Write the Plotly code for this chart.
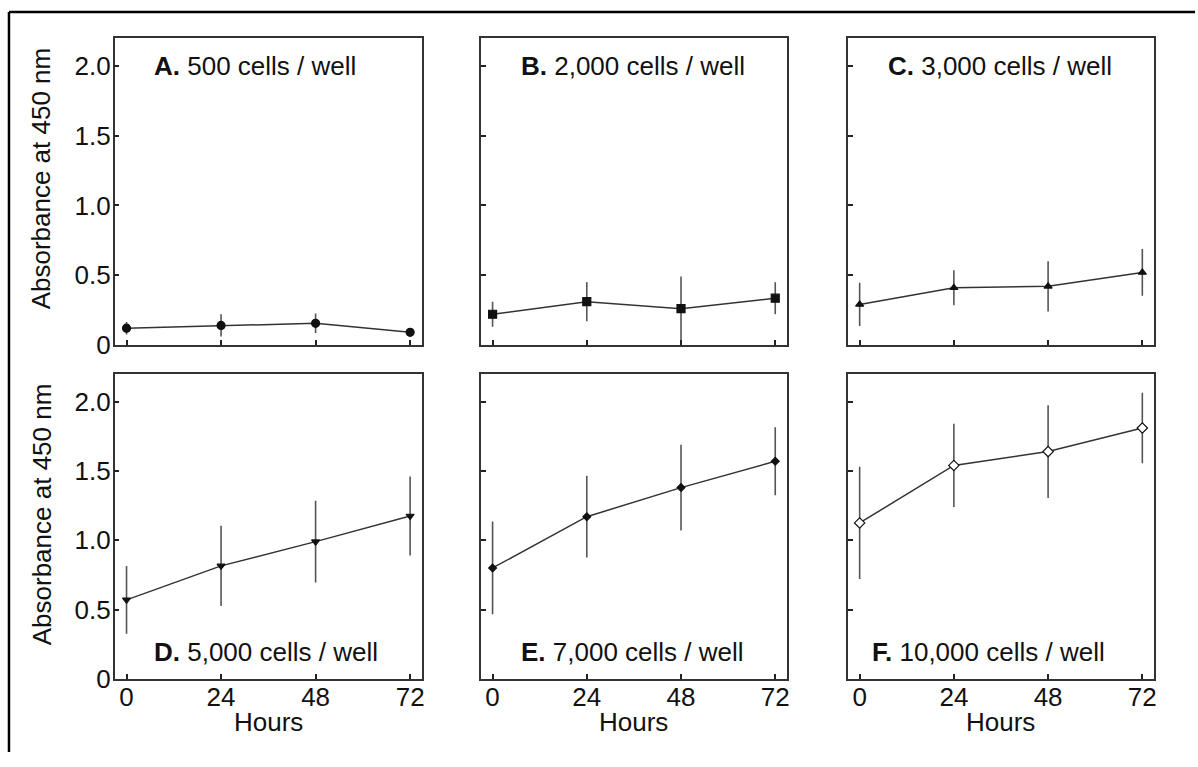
import plotly.graph_objects as go

hours = [0, 24, 48, 72]
x_tick_labels = ["0", "24", "48", "72"]
y_tick_vals = [0, 0.5, 1.0, 1.5, 2.0]
y_tick_labels = ["0", "0.5", "1.0", "1.5", "2.0"]

panel_letters = ["A.", "B.", "C.", "D.", "E.", "F."]
panel_texts = ["500 cells / well", "2,000 cells / well", "3,000 cells / well",
               "5,000 cells / well", "7,000 cells / well", "10,000 cells / well"]

a_mean = [0.12, 0.14, 0.155, 0.09]
a_err = [0.045, 0.08, 0.07, 0.02]
b_mean = [0.22, 0.31, 0.26, 0.335]
b_err = [0.09, 0.14, 0.23, 0.115]
c_mean = [0.29, 0.41, 0.42, 0.52]
c_err = [0.155, 0.125, 0.18, 0.168]
d_mean = [0.57, 0.815, 0.99, 1.175]
d_err = [0.245, 0.29, 0.295, 0.285]
e_mean = [0.80, 1.17, 1.38, 1.57]
e_err = [0.335, 0.295, 0.31, 0.245]
f_mean = [1.125, 1.54, 1.64, 1.81]
f_err = [0.405, 0.30, 0.335, 0.255]

means = [a_mean, b_mean, c_mean, d_mean, e_mean, f_mean]
errs = [a_err, b_err, c_err, d_err, e_err, f_err]

W, H = 1198, 767
YH = 750  # vertical span used to convert target pixel rows into paper fractions
FONT = "Liberation Sans, Arial, sans-serif"
FS = 26
INK = "#111111"


def py(y):
    return 1 - y / YH


# panel pixel boxes (left, right, top, bottom)
cols = [(115, 423), (482, 789), (850, 1157)]
rows = [(38, 344), (373, 677)]

symbols = ["circle", "square", "triangle-up", "triangle-down", "diamond", "diamond"]
sizes = [8, 8, 7, 7, 6, 8]
fills = [INK, INK, INK, INK, INK, "white"]

fig = go.Figure()
layout = dict(
    width=W, height=H, autosize=False,
    margin=dict(l=0, r=0, t=0, b=0, pad=0),
    paper_bgcolor="white", plot_bgcolor="white",
    showlegend=False,
    font=dict(family=FONT, size=FS, color=INK),
)

annotations = []
for i in range(6):
    r, c = divmod(i, 3)
    xl, xr = cols[c]
    yt, yb = rows[r]
    n = i + 1
    xa = "xaxis" if n == 1 else f"xaxis{n}"
    ya = "yaxis" if n == 1 else f"yaxis{n}"
    xref = "x" if n == 1 else f"x{n}"
    yref = "y" if n == 1 else f"y{n}"
    layout[xa] = dict(
        domain=[xl / W, xr / W], anchor=yref, range=[-3, 75],
        tickvals=hours, ticktext=x_tick_labels, showticklabels=(r == 1),
        ticks="inside", ticklen=5, tickwidth=1.5, tickcolor="#222",
        ticklabelstandoff=-6,
        showline=True, mirror=True, linecolor="#333", linewidth=1.5,
        showgrid=False, zeroline=False,
        tickfont=dict(family=FONT, size=FS, color=INK),
    )
    layout[ya] = dict(
        domain=[py(yb), py(yt)], anchor=xref, range=[0, 2.2],
        tickvals=y_tick_vals, ticktext=y_tick_labels, showticklabels=(c == 0),
        ticks="inside", ticklen=5, tickwidth=1.5, tickcolor="#222",
        ticklabelstandoff=-3,
        showline=True, mirror=True, linecolor="#333", linewidth=1.5,
        showgrid=False, zeroline=False,
        tickfont=dict(family=FONT, size=FS, color=INK),
    )
    fig.add_trace(go.Scatter(
        x=hours, y=means[i], xaxis=xref, yaxis=yref,
        mode="lines+markers",
        line=dict(color="#333", width=1.5),
        marker=dict(symbol=symbols[i], size=sizes[i], color=fills[i],
                    line=dict(color=INK, width=1.2)),
        error_y=dict(type="data", array=errs[i], visible=True,
                     color="#555", thickness=1.6, width=0),
        cliponaxis=True,
    ))

# panel labels
label_x = [152, 520, 888, 152, 520, 872]
label_y = [66, 66, 66, 650, 650, 650]
for i in range(6):
    annotations.append(dict(
        text=f"<b>{panel_letters[i]}</b> {panel_texts[i]}",
        xref="paper", yref="paper", x=label_x[i] / W, y=py(label_y[i]),
        xanchor="left", yanchor="middle", showarrow=False,
        font=dict(family=FONT, size=FS, color=INK),
    ))

# y axis titles
for yc in [178, 513]:
    annotations.append(dict(
        text="Absorbance at 450 nm", textangle=-90,
        xref="paper", yref="paper", x=42 / W, y=py(yc),
        xanchor="center", yanchor="middle", showarrow=False,
        font=dict(family=FONT, size=FS, color=INK),
    ))

# x axis titles
for c in range(3):
    xl, xr = cols[c]
    annotations.append(dict(
        text="Hours", xref="paper", yref="paper",
        x=(xl + xr) / 2 / W, y=py(720),
        xanchor="center", yanchor="middle", showarrow=False,
        font=dict(family=FONT, size=FS, color=INK),
    ))

layout["annotations"] = annotations
# outer frame: top and left edges (right/bottom run off the page)
layout["shapes"] = [
    dict(type="line", xref="paper", yref="paper",
         x0=9 / W, x1=1, y0=py(12), y1=py(12),
         line=dict(color="#000", width=2.5), layer="above"),
    dict(type="line", xref="paper", yref="paper",
         x0=9 / W, x1=9 / W, y0=0, y1=py(12),
         line=dict(color="#000", width=2.5), layer="above"),
]

fig.update_layout(**layout)
fig.write_html("out.html")
